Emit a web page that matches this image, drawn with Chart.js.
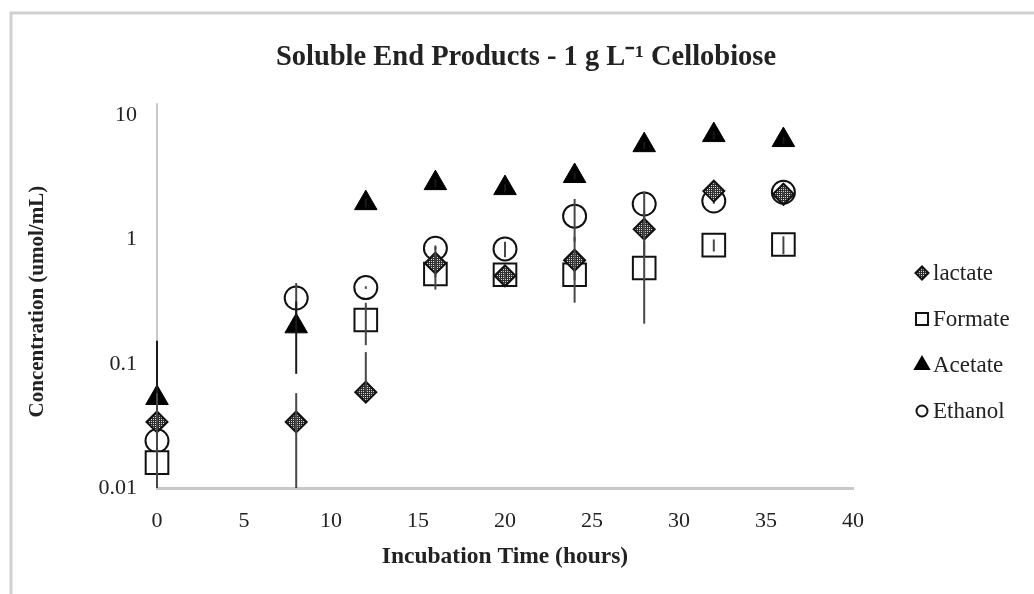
<!DOCTYPE html>
<html>
<head>
<meta charset="utf-8">
<title>Soluble End Products</title>
<script src="https://cdn.jsdelivr.net/npm/chart.js@4/dist/chart.umd.min.js"></script>
<style>
  html, body { margin: 0; padding: 0; background: #fff; }
</style>
</head>
<body>
<canvas id="endProducts" width="1034" height="594"></canvas>
<script>
const hours = [0, 8, 12, 16, 20, 24, 28, 32, 36];

// mean concentrations, umol/mL
const lactate = [0.034, 0.034, 0.059, 0.645, 0.51, 0.68, 1.21, 2.45, 2.31];
const formate = [0.016, null, 0.225, 0.527, 0.52, 0.52, 0.59, 0.90, 0.91];
const acetate = [0.053, 0.20, 1.96, 2.84, 2.59, 3.24, 5.74, 6.92, 6.31];
const ethanol = [0.024, 0.338, 0.41, 0.85, 0.84, 1.54, 1.93, 2.04, 2.40];

// standard deviations
const lactateSd = [0.024, 0.024, 0.065, 0.25, 0.03, 0.37, 0.5, 0.1, 0.1];
const formateSd = [0.006, null, 0.084, 0.03, 0.02, 0.05, 0.38, 0.1, 0.15];
const acetateSd = [0.1, 0.117, 0.15, 0.2, 0.2, 0.2, 0.4, 0.5, 0.4];
const ethanolSd = [0.013, 0.108, 0.01, 0.02, 0.12, 0.58, 0.5, 0.1, 0.1];

const xTicks = [0, 5, 10, 15, 20, 25, 30, 35, 40];
const yTicks = [0.01, 0.1, 1, 10];

const serif = '"Liberation Serif", "Times New Roman", serif';
const ink = '#222';

// dotted fill for the lactate diamonds
const hatch = (() => {
    const tile = document.createElement('canvas');
    tile.width = 4;
    tile.height = 4;
    const t = tile.getContext('2d');
    t.fillStyle = '#2e2e2e';
    t.fillRect(0, 0, 4, 4);
    t.fillStyle = '#d9d9d9';
    [[1, 1], [3, 3], [1, 3], [3, 1]].forEach(([x, y]) => t.fillRect(x, y, 1, 1));
    return t.createPattern(tile, 'repeat');
})();

function points(values, sd) {
    return hours
        .map((h, i) => ({ x: h, y: values[i], sd: sd[i] }))
        .filter(p => p.y != null);
}

// vertical error bars, drawn right after each series so later series cover them
const errorBars = {
    id: 'errorBars',
    afterDatasetDraw(chart, args) {
        const ds = chart.data.datasets[args.index];
        const yScale = chart.scales.y;
        const area = chart.chartArea;
        const ctx = chart.ctx;
        ctx.save();
        ctx.strokeStyle = ds.errorColor || '#474747';
        ctx.lineWidth = 2;
        args.meta.data.forEach((pt, i) => {
            const p = ds.data[i];
            if (!p.sd) return;
            const top = Math.max(area.top, yScale.getPixelForValue(p.y + p.sd));
            // a log axis has no place for a non-positive lower end, so that half is left out
            const low = p.y - p.sd;
            const bottom = low > 0 ? Math.min(area.bottom, yScale.getPixelForValue(low)) : pt.y;
            ctx.beginPath();
            ctx.moveTo(pt.x, top);
            ctx.lineTo(pt.x, bottom);
            ctx.stroke();
        });
        ctx.restore();
    }
};

// outer frame and the stub of the y axis above the top decade
const frame = {
    id: 'frame',
    beforeDraw(chart) {
        const ctx = chart.ctx;
        const area = chart.chartArea;
        ctx.save();
        ctx.fillStyle = '#fff';
        ctx.fillRect(0, 0, chart.width, chart.height);
        ctx.strokeStyle = '#d0d0d0';
        ctx.lineWidth = 3;
        ctx.beginPath();
        ctx.moveTo(11, chart.height);
        ctx.lineTo(11, 13);
        ctx.lineTo(chart.width, 13);
        ctx.stroke();
        ctx.strokeStyle = '#c8c8c8';
        ctx.lineWidth = 2;
        ctx.beginPath();
        ctx.moveTo(area.left, area.top - 12);
        ctx.lineTo(area.left, area.top);
        ctx.stroke();
        ctx.restore();
    }
};

// legend column to the right of the plot
const sideLegend = {
    id: 'sideLegend',
    afterDraw(chart) {
        const ctx = chart.ctx;
        const sizes = { rectRot: 6.5, rect: 8.5, triangle: 8, circle: 5.5 };
        const x = chart.chartArea.right + 69;
        ctx.save();
        chart.data.datasets.forEach((ds, i) => {
            const y = 273 + i * 46;
            ctx.fillStyle = ds.backgroundColor;
            ctx.strokeStyle = ds.borderColor;
            ctx.lineWidth = 2;
            Chart.helpers.drawPoint(ctx, {
                pointStyle: ds.pointStyle,
                radius: sizes[ds.pointStyle],
                borderWidth: 2,
                rotation: 0
            }, x, y);
            ctx.fillStyle = ink;
            ctx.font = `23px ${serif}`;
            ctx.textBaseline = 'middle';
            ctx.fillText(ds.label, x + 11, y + 1);
        });
        ctx.restore();
    }
};

new Chart(document.getElementById('endProducts'), {
    type: 'scatter',
    data: {
        datasets: [
            {
                label: 'lactate',
                data: points(lactate, lactateSd),
                pointStyle: 'rectRot',
                pointRadius: 10.5,
                backgroundColor: hatch,
                borderColor: '#111',
                borderWidth: 2,
                clip: false
            },
            {
                label: 'Formate',
                data: points(formate, formateSd),
                pointStyle: 'rect',
                pointRadius: 16,
                backgroundColor: '#fff',
                borderColor: '#111',
                borderWidth: 2,
                clip: false
            },
            {
                label: 'Acetate',
                data: points(acetate, acetateSd),
                pointStyle: 'triangle',
                pointRadius: 13,
                backgroundColor: '#000',
                borderColor: '#000',
                borderWidth: 1,
                errorColor: '#1a1a1a',
                clip: false
            },
            {
                label: 'Ethanol',
                data: points(ethanol, ethanolSd),
                pointStyle: 'circle',
                pointRadius: 11.5,
                backgroundColor: '#fff',
                borderColor: '#111',
                borderWidth: 2,
                clip: false
            }
        ]
    },
    options: {
        responsive: false,
        devicePixelRatio: 1,
        animation: false,
        events: [],
        layout: { padding: { left: 18, right: 0, top: 0, bottom: 0 } },
        plugins: {
            legend: { display: false },
            tooltip: { enabled: false },
            title: {
                display: true,
                text: 'Soluble End Products - 1 g L\u207B\u00B9 Cellobiose',
                color: ink,
                font: { family: serif, size: 28.5, weight: 'bold' },
                padding: { top: 41, bottom: 40 }
            }
        },
        scales: {
            x: {
                type: 'linear',
                min: 0,
                max: 40,
                afterBuildTicks: s => { s.ticks = xTicks.map(v => ({ value: v })); },
                afterFit: s => { s.height = 106; },
                grid: { display: false, drawTicks: false },
                border: { display: true, color: '#c8c8c8', width: 3 },
                ticks: { color: ink, padding: 20, font: { family: serif, size: 22 } },
                title: {
                    display: true,
                    text: 'Incubation Time (hours)',
                    color: ink,
                    font: { family: serif, size: 23.5, weight: 'bold' },
                    padding: { top: 0, bottom: 23 }
                }
            },
            y: {
                type: 'logarithmic',
                min: 0.01,
                max: 10,
                afterBuildTicks: s => { s.ticks = yTicks.map(v => ({ value: v })); },
                afterFit: s => { s.width = 139; },
                grid: { display: false, drawTicks: false },
                border: { display: true, color: '#c8c8c8', width: 2 },
                ticks: {
                    color: ink,
                    padding: 20,
                    font: { family: serif, size: 22 },
                    callback: v => String(v)
                },
                title: {
                    display: true,
                    text: 'Concentration (umol/mL)',
                    color: ink,
                    font: { family: serif, size: 21, weight: 'bold' },
                    padding: { top: 7, bottom: 0 }
                }
            },
            // empty column that holds the legend
            legendSpace: {
                type: 'linear',
                axis: 'y',
                position: 'right',
                afterFit: s => { s.width = 181; },
                grid: { display: false, drawTicks: false },
                border: { display: false },
                ticks: { display: false }
            }
        }
    },
    plugins: [frame, errorBars, sideLegend]
});
</script>
</body>
</html>
